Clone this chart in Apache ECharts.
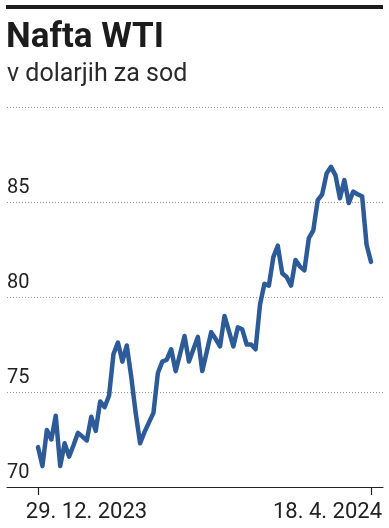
<!DOCTYPE html>
<html>
<head>
<meta charset="utf-8">
<script src="https://cdn.jsdelivr.net/npm/echarts@6/dist/echarts.min.js"></script>
<style>
html,body{margin:0;padding:0;background:#fff;}
#c{width:389px;height:528px;}
</style>
</head>
<body>
<div id="c"></div>
<script>
// Trading days shown (index-based x axis)
var dates = [
 '2023-12-29',
 '2024-01-02','2024-01-03','2024-01-04','2024-01-05',
 '2024-01-08','2024-01-09','2024-01-10','2024-01-11','2024-01-12',
 '2024-01-16','2024-01-17','2024-01-18','2024-01-19',
 '2024-01-22','2024-01-23','2024-01-24','2024-01-25','2024-01-26',
 '2024-01-29','2024-01-30','2024-01-31','2024-02-01','2024-02-02',
 '2024-02-05','2024-02-06','2024-02-07','2024-02-08','2024-02-09',
 '2024-02-12','2024-02-13','2024-02-14','2024-02-15','2024-02-16',
 '2024-02-20','2024-02-21','2024-02-22','2024-02-23',
 '2024-02-26','2024-02-27','2024-02-28','2024-02-29','2024-03-01',
 '2024-03-04','2024-03-05','2024-03-06','2024-03-07','2024-03-08',
 '2024-03-11','2024-03-12','2024-03-13','2024-03-14','2024-03-15',
 '2024-03-18','2024-03-19','2024-03-20','2024-03-21','2024-03-22',
 '2024-03-25','2024-03-26','2024-03-27','2024-03-28',
 '2024-04-01','2024-04-02','2024-04-03','2024-04-04','2024-04-05',
 '2024-04-08','2024-04-09','2024-04-10','2024-04-11','2024-04-12',
 '2024-04-15','2024-04-16','2024-04-17','2024-04-18'
];
var prices = [
 72.1,
 71.1, 73.0, 72.5, 73.75,
 71.1, 72.3, 71.6, 72.2, 72.85,
 72.65, 72.45, 73.7, 72.95,
 74.5, 74.2, 74.8, 77.0, 77.6,
 76.6, 77.45, 75.8, 73.9, 72.3,
 72.9, 73.4, 73.9, 76.0, 76.6,
 76.7, 77.25, 76.1, 77.0, 77.95,
 76.6, 77.25, 77.9, 76.1,
 77.1, 78.15, 77.8, 77.4, 79.0,
 78.2, 77.4, 78.4, 78.3, 77.5,
 77.5, 77.25, 79.6, 80.7, 80.6,
 82.1, 82.7, 81.25, 81.05, 80.6,
 81.95, 81.6, 81.4, 83.1,
 83.5, 85.1, 85.4, 86.5, 86.85,
 86.4, 85.2, 86.15, 84.95, 85.55,
 85.4, 85.3, 82.75, 81.85
];
var tickIndexes = [0, 75];
var tickLabels = ['29. 12. 2023', '18. 4. 2024'];
var yTicks = [70, 75, 80, 85, 90];

var chart = echarts.init(document.getElementById('c'), null, {renderer: 'canvas'});
var seriesData = prices.map(function (v, i) { return [i, v]; });

var option = {
  animation: false,
  backgroundColor: '#ffffff',
  graphic: [{
    type: 'rect',
    shape: {x: 6, y: 5, width: 377, height: 4},
    style: {fill: '#1c1c1c'}
  }],
  title: [{
    text: 'Nafta WTI',
    left: 6, top: 21, padding: 0,
    textStyle: {fontFamily: 'Roboto', fontWeight: 'bold', fontSize: 35, color: '#1c1c1c'}
  }, {
    text: 'v dolarjih za sod',
    left: 7, top: 62, padding: 0,
    textStyle: {fontFamily: 'Roboto', fontWeight: 'normal', fontSize: 25, color: '#2a2a2a'}
  }],
  grid: {left: 7, right: 6, top: 107, bottom: 41, containLabel: false},
  xAxis: {
    type: 'value',
    min: -6.98, max: 77.7,
    axisLine: {show: true, lineStyle: {color: '#222', width: 1.2}},
    axisTick: {show: true, customValues: tickIndexes, length: 8, lineStyle: {color: '#222', width: 1.2}},
    splitLine: {show: false},
    axisLabel: {
      show: true,
      customValues: tickIndexes,
      margin: 14,
      formatter: function (v) {
        var k = tickIndexes.indexOf(Math.round(v));
        if (k === 0) return '{a|' + tickLabels[0] + '}';
        if (k === 1) return '{b|' + tickLabels[1] + '}';
        return '';
      },
      rich: {
        a: {fontFamily: 'Roboto', fontSize: 22, color: '#222', padding: [0, 0, 0, 97]},
        b: {fontFamily: 'Roboto', fontSize: 22, color: '#222', padding: [0, 87, 0, 0]}
      }
    }
  },
  yAxis: {
    type: 'value',
    min: yTicks[0], max: yTicks[yTicks.length - 1], interval: 5,
    axisLine: {show: false},
    axisTick: {show: false},
    splitLine: {show: true, lineStyle: {color: '#9a9a9a', width: 1, type: [1, 2]}},
    axisLabel: {
      inside: true,
      margin: 0,
      verticalAlign: 'bottom',
      padding: [0, 0, 4, 0],
      fontFamily: 'Liberation Sans Narrow, Roboto',
      fontSize: 20,
      color: '#222',
      formatter: function (v) { return v === 90 ? '' : String(v); }
    }
  },
  series: [{
    type: 'line',
    data: seriesData,
    showSymbol: false,
    smooth: false,
    lineStyle: {color: '#2c5b97', width: 4.5, cap: 'round', join: 'round'},
    z: 3
  }]
};
chart.setOption(option);
</script>
</body>
</html>
